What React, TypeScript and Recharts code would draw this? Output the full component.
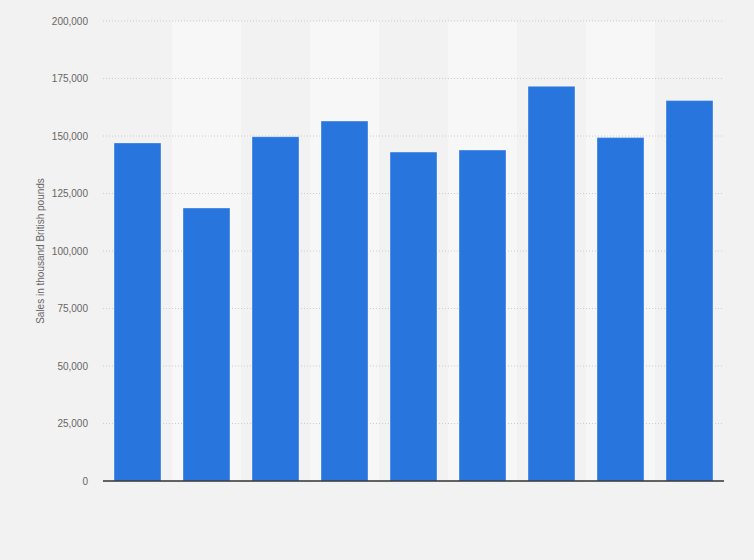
import React from 'react';
import { BarChart, Bar, XAxis, YAxis, CartesianGrid, ReferenceArea } from 'recharts';

const categories = ['1', '2', '3', '4', '5', '6', '7', '8', '9'];
const sales = [147000, 118700, 149700, 156500, 143000, 143900, 171600, 149300, 165400];
const yTicks = [0, 25000, 50000, 75000, 100000, 125000, 150000, 175000, 200000];
const bandCategories = ['2', '4', '6', '8'];
const yLabel = 'Sales in thousand British pounds';

const data = categories.map((c, i) => ({ name: c, value: sales[i] }));

const fmt = (v: number) => v.toLocaleString('en-US');

const YLabel = (props: any) => {
  const vb = props.viewBox || {};
  const cx = 40;
  const cy = (vb.y || 0) + (vb.height || 0) / 2;
  return (
    <text
      x={cx}
      y={cy}
      transform={`rotate(-90, ${cx}, ${cy})`}
      textAnchor="middle"
      dominantBaseline="central"
      fill="#666"
      fontSize={10}
      fontFamily="'Liberation Sans', Arial, sans-serif"
    >
      {yLabel}
    </text>
  );
};

export default function App() {
  return (
    <div
      style={{
        position: 'absolute',
        left: 0,
        top: 0,
        width: 754,
        height: 560,
        background: '#f2f2f2',
        fontFamily: "'Liberation Sans', Arial, sans-serif",
      }}
    >
      <BarChart
        width={754}
        height={560}
        data={data}
        margin={{ top: 21, right: 30, bottom: 78, left: 40 }}
        barSize={47}
      >
        {bandCategories.map((c) => (
          <ReferenceArea
            key={c}
            x1={c}
            x2={c}
            fill="#ffffff"
            fillOpacity={0.42}
            stroke="none"
            ifOverflow="visible"
            zIndex={-200}
          />
        ))}
        <CartesianGrid vertical={false} stroke="#cccccc" strokeDasharray="1 2" />
        <XAxis
          dataKey="name"
          tick={false}
          tickLine={false}
          height={1}
          axisLine={{ stroke: '#333333', strokeWidth: 1.5 }}
        />
        <YAxis
          domain={[0, 200000]}
          ticks={yTicks}
          width={63}
          axisLine={false}
          tickLine={false}
          tickMargin={9}
          tickFormatter={fmt}
          tick={{ fill: '#666', fontSize: 10, fontFamily: "'Liberation Sans', Arial, sans-serif" }}
          label={<YLabel />}
        />
        <Bar
          dataKey="value"
          fill="#2876dd"
          stroke="#ffffff"
          strokeOpacity={0.35}
          strokeWidth={1}
          isAnimationActive={false}
        />
      </BarChart>
    </div>
  );
}
